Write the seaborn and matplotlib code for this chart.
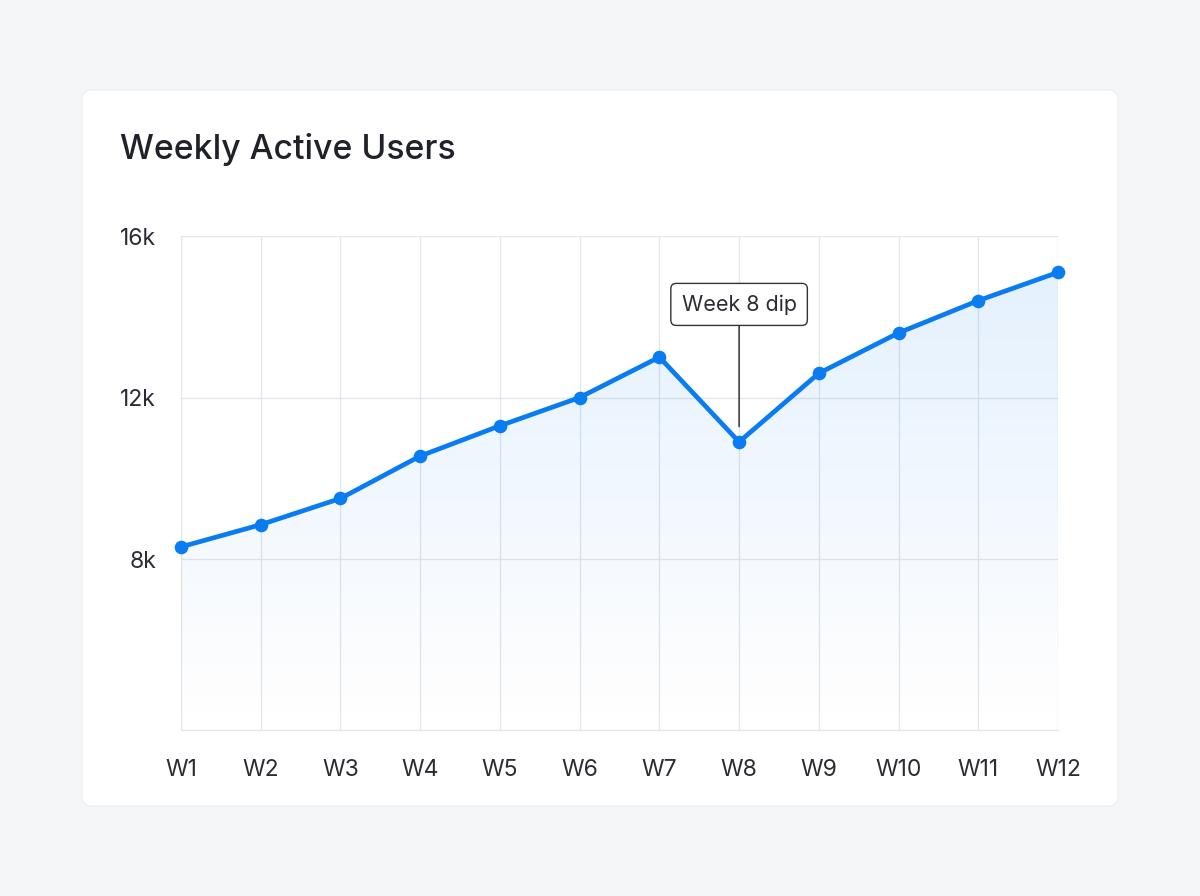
import numpy as np
import pandas as pd
import seaborn as sns
import matplotlib.pyplot as plt
from matplotlib.patches import FancyBboxPatch

weeks = ["W1", "W2", "W3", "W4", "W5", "W6", "W7", "W8", "W9", "W10", "W11", "W12"]
users = [8300, 8850, 9500, 10550, 11300, 12000, 13000, 10900, 12600, 13600, 14400, 15100]
y_ticks = [8000, 12000, 16000]
y_tick_labels = ["8k", "12k", "16k"]
note_week = "W8"
note_text = "Week 8 dip"

df = pd.DataFrame({"week": weeks, "users": users})

sns.set_theme(style="white")
plt.rcParams["font.family"] = ["Inter", "DejaVu Sans"]

LINE = "#0a7cf2"
GRID = "#e3e6eb"
TEXT = "#2a2d33"

fig = plt.figure(figsize=(12, 8.96), dpi=100)
fig.patch.set_facecolor("#f5f6f7")

# white card
card = FancyBboxPatch((0.82, 0.90), 10.36, 7.16,
                      boxstyle="round,pad=0,rounding_size=0.1",
                      transform=fig.dpi_scale_trans,
                      facecolor="white", edgecolor="#eef0f2", linewidth=0.8, zorder=0)
fig.add_artist(card)

fig.text(120 / 1200, 1 - 150 / 896, "Weekly Active Users", ha="left", va="center",
         fontsize=24.3, fontweight="medium", color="#1f2228")

ax = fig.add_axes([181 / 1200, 1 - 730 / 896, 877 / 1200, 494 / 896])
ax.set_facecolor("none")

ymin, ymax = 3765, 16000
x = np.arange(len(weeks))

# gradient fill under the line
poly = ax.fill_between(x, users, ymin, facecolor="none", edgecolor="none")
grad = np.linspace(0, 1, 256).reshape(-1, 1)
rgba = np.zeros((256, 1, 4))
rgba[..., 0] = 10 / 255
rgba[..., 1] = 124 / 255
rgba[..., 2] = 242 / 255
rgba[..., 3] = 0.11 * grad
img = ax.imshow(rgba, extent=[0, len(weeks) - 1, ymin, max(users)], origin="lower",
                aspect="auto", zorder=1)
img.set_clip_path(poly.get_paths()[0], transform=ax.transData)

sns.lineplot(data=df, x="week", y="users", sort=False, ax=ax, color=LINE,
             linewidth=3.4, marker="o", markersize=9.8, markeredgewidth=0, zorder=3,
             clip_on=False)

ax.set_xlim(0, len(weeks) - 1)
ax.set_ylim(ymin, ymax)
ax.set_yticks(y_ticks)
ax.set_yticklabels(y_tick_labels)
ax.set_xticks(x)
ax.set_xticklabels(weeks)
ax.set_xlabel("")
ax.set_ylabel("")
ax.tick_params(axis="both", length=0, labelsize=16.5, labelcolor=TEXT)
ax.tick_params(axis="y", pad=18)
ax.tick_params(axis="x", pad=21)

ax.grid(True, color=GRID, linewidth=1.0, zorder=0)
ax.set_axisbelow(True)
for side in ["top", "right", "left"]:
    ax.spines[side].set_visible(False)
ax.spines["bottom"].set_color(GRID)
ax.spines["bottom"].set_linewidth(1.0)

i = weeks.index(note_week)
ax.annotate(note_text, xy=(i, users[i]), xytext=(0, 99), textcoords="offset points",
            ha="center", va="center", fontsize=15.5, color=TEXT, zorder=5,
            bbox=dict(boxstyle="round,pad=0.5,rounding_size=0.25", facecolor="white",
                      edgecolor="#333333", linewidth=1.0),
            arrowprops=dict(arrowstyle="-", color="#222222", linewidth=1.0,
                            shrinkA=0, shrinkB=11))

fig.savefig("out.png", dpi=100)
